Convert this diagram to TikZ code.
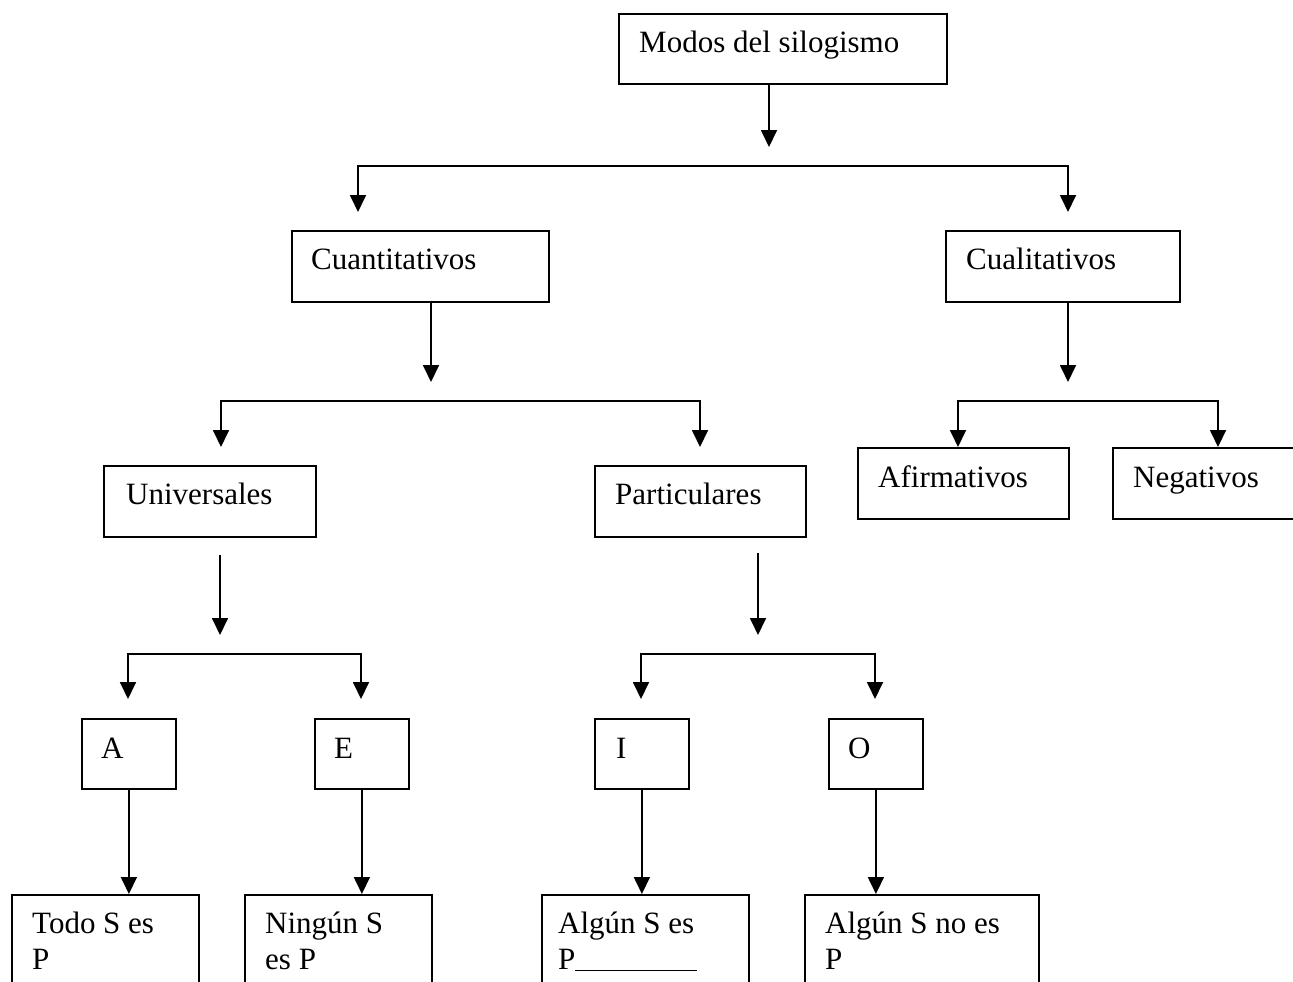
\documentclass[tikz,border=0pt]{standalone}
\usepackage{fontspec}
\setmainfont{Liberation Serif}
\usetikzlibrary{arrows.meta}
\tikzset{
  bx/.style 2 args={draw, line width=1.8pt, inner sep=0pt, anchor=north west,
    minimum width=#1pt, minimum height=#2pt},
  tx/.style={anchor=base west, inner sep=0pt, align=left,
    font=\fontsize{31}{36}\selectfont},
  tip/.tip={Triangle[width=16pt,length=17pt]},
  arr/.style={line width=1.8pt, -tip},
  barr/.style={line width=1.8pt, tip-tip},
}
\begin{document}
\begin{tikzpicture}[x=1pt, y=-1pt]
\useasboundingbox (0,0) rectangle (1293,982);
\clip (0,0) rectangle (1293,982);

% boxes
\node[bx={328}{70}]  (modos) at (618,13) {};
\node[bx={257}{71}]  (cuant) at (291,230) {};
\node[bx={234}{71}]  (cual)  at (945,230) {};
\node[bx={212}{71}]  (univ)  at (103,465) {};
\node[bx={211}{71}]  (part)  at (594,465) {};
\node[bx={211}{71}]  (afirm) at (857,447) {};
\node[bx={220}{71}]  (neg)   at (1112,447) {};
\node[bx={94}{70}]   (bA)    at (81,718) {};
\node[bx={94}{70}]   (bE)    at (314,718) {};
\node[bx={94}{70}]   (bI)    at (594,718) {};
\node[bx={94}{70}]   (bO)    at (828,718) {};
\node[bx={187}{120}] (todo)  at (11,894) {};
\node[bx={187}{120}] (ning)  at (244,894) {};
\node[bx={207}{120}] (alg1)  at (541,894) {};
\node[bx={234}{120}] (alg2)  at (804,894) {};

% texts
\node[tx] (tmodos) at (639,53)  {Modos del silogismo};
\node[tx] (tcuant) at (311,269) {Cuantitativos};
\node[tx] (tcual)  at (966,269) {Cualitativos};
\node[tx] (tuniv)  at (126,504) {Universales};
\node[tx] (tpart)  at (615,504) {Particulares};
\node[tx] (tafirm) at (878,487) {Afirmativos};
\node[tx] (tneg)   at (1133,487) {Negativos};
\node[tx] (tA)     at (101,758) {A};
\node[tx] (tE)     at (334,758) {E};
\node[tx] (tI)     at (616,758) {I};
\node[tx] (tO)     at (848,758) {O};
\node[tx] (ttodo)  at (32,969)  {Todo S es\\P};
\node[tx] (tning)  at (265,969) {Ningún S\\es P};
\node[tx] (talg1)  at (558,969) {Algún S es\\P\rule[-2pt]{122pt}{1.5pt}};
\node[tx] (talg2)  at (825,969) {Algún S no es\\P};

% coordinates
\coordinate (m1) at (769,147);
\coordinate (k1l) at (358,166);  \coordinate (k1r) at (1068,166);
\coordinate (e1l) at (358,212);  \coordinate (e1r) at (1068,212);

\coordinate (m2) at (431,382);
\coordinate (k2l) at (221,401);  \coordinate (k2r) at (700,401);
\coordinate (e2l) at (221,447);  \coordinate (e2r) at (700,447);

\coordinate (m3) at (1068,382);
\coordinate (k3l) at (958,401);  \coordinate (k3r) at (1218,401);

\coordinate (s4) at (220,555);   \coordinate (m4) at (220,635);
\coordinate (k4l) at (128,654);  \coordinate (k4r) at (361,654);
\coordinate (e4l) at (128,699);  \coordinate (e4r) at (361,699);

\coordinate (s5) at (758,553);   \coordinate (m5) at (758,635);
\coordinate (k5l) at (641,654);  \coordinate (k5r) at (875,654);
\coordinate (e5l) at (641,699);  \coordinate (e5r) at (875,699);

% connectors
\draw[arr] (modos.south -| m1) -- (m1);
\draw[barr] (e1l) -- (k1l) -- (k1r) -- (e1r);

\draw[arr] (cuant.south -| m2) -- (m2);
\draw[barr] (e2l) -- (k2l) -- (k2r) -- (e2r);

\draw[arr] (cual.south -| m3) -- (m3);
\draw[barr] (afirm.north -| k3l) -- (k3l) -- (k3r) -- (neg.north -| k3r);

\draw[arr] (s4) -- (m4);
\draw[barr] (e4l) -- (k4l) -- (k4r) -- (e4r);

\draw[arr] (s5) -- (m5);
\draw[barr] (e5l) -- (k5l) -- (k5r) -- (e5r);

\draw[arr] (bA.south) -- (todo.north -| bA.south);
\draw[arr] (bE.south) -- (ning.north -| bE.south);
\draw[arr] (bI.south) -- (alg1.north -| bI.south);
\draw[arr] (bO.south) -- (alg2.north -| bO.south);
\end{tikzpicture}
\end{document}
